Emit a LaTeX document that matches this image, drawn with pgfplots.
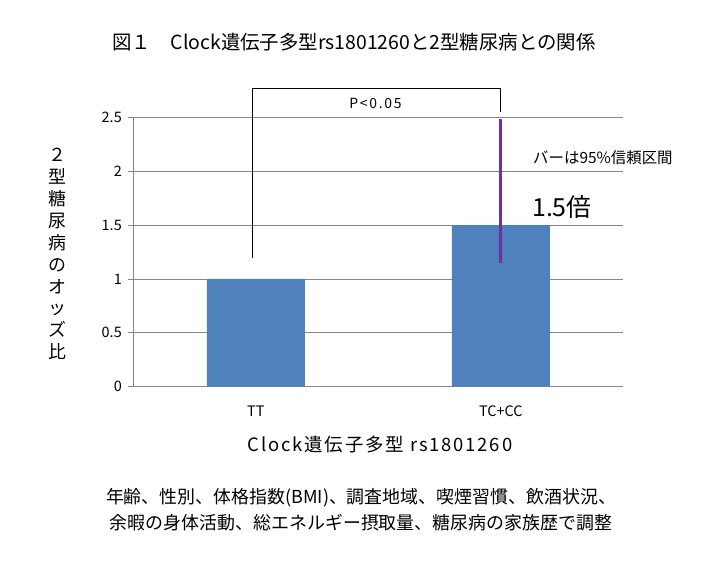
\documentclass[border=0pt]{standalone}
\usepackage{fontspec}
\setmainfont{Noto Sans CJK JP}
\usepackage{pgfplots}
\pgfplotsset{compat=1.18}

\definecolor{barblue}{RGB}{79,129,189}
\definecolor{cipurple}{RGB}{112,48,160}
\definecolor{gridgray}{RGB}{134,134,134}

\begin{document}
\begin{tikzpicture}
\fill[white] (0,0) rectangle (721bp,561bp);
\path[use as bounding box] (0,0) rectangle (721bp,561bp);

\begin{axis}[
	at={(133.3bp,174.3bp)}, anchor=south west,
	scale only axis,
	width=490bp, height=269.4bp,
	xmin=-0.5, xmax=1.5,
	ymin=0, ymax=2.5,
	clip=false,
	axis x line=bottom, axis y line=left,
	axis line style={draw=gridgray, line width=0.8bp, -},
	xtick={0,1},
	xticklabels={TT, TC+CC},
	major x tick style={draw=none},
	extra x ticks={-0.5,0.5,1.5},
	extra x tick labels={},
	extra x tick style={tick style={draw=gridgray, line width=0.8bp}, tick align=outside, major tick length=5bp},
	ytick={0,0.5,1,1.5,2,2.5},
	tick align=outside,
	major tick length=5bp,
	y tick style={draw=gridgray, line width=0.8bp},
	ymajorgrids,
	grid style={draw=gridgray, line width=0.8bp},
	/pgf/number format/assume math mode=true,
	tick label style={font=\fontsize{14.5}{16}\selectfont},
	xticklabel style={yshift=-11bp},
	yticklabel style={xshift=-3bp},
]

% odds ratio bars
\addplot[ybar, bar width=0.4, fill=barblue, draw=none] coordinates {
	(0, 1.0)
	(1, 1.5)
};

% 95% confidence interval for TC+CC
\addplot[draw=none, mark=none, forget plot,
	error bars/.cd, y dir=both, y explicit, error mark=none,
	error bar style={line width=3bp, cipurple}]
	coordinates {
	(1, 1.5) += (0, 0.98) -= (0, 0.35)
};

% significance bracket
\addplot[black, line width=0.8bp, mark=none] coordinates {
	(-0.015, 1.19) (-0.015, 2.77) (1, 2.77) (1, 2.55)
};

\end{axis}

\node[font=\fontsize{19.5}{21}\selectfont] at (354bp,519bp)
	{図１　Clock遺伝子多型rs1801260と2型糖尿病との関係};
\node[font=\fontsize{14}{16}\selectfont\addfontfeature{LetterSpace=12}] at (375.5bp,457.5bp) {P<0.05};
\node[font=\fontsize{15.5}{17}\selectfont, anchor=west, inner sep=0pt] at (533bp,403bp)
	{バーは95\%信頼区間};
\node[font=\fontsize{25}{27}\selectfont, anchor=west, inner sep=0pt] at (532bp,354bp) {1.5倍};
\node[font=\fontsize{18}{22}\selectfont, align=center] at (57bp,307bp)
	{２\\型\\糖\\尿\\病\\の\\オ\\ッ\\ズ\\比};
\node[font=\fontsize{18.5}{20}\selectfont\addfontfeature{LetterSpace=10}] at (380bp,116bp)
	{Clock遺伝子多型 rs1801260};
\node[font=\fontsize{18}{26}\selectfont, align=center] at (361bp,51bp)
	{年齢、性別、体格指数(BMI)、調査地域、喫煙習慣、飲酒状況、\\余暇の身体活動、総エネルギー摂取量、糖尿病の家族歴で調整};

\end{tikzpicture}
\end{document}
